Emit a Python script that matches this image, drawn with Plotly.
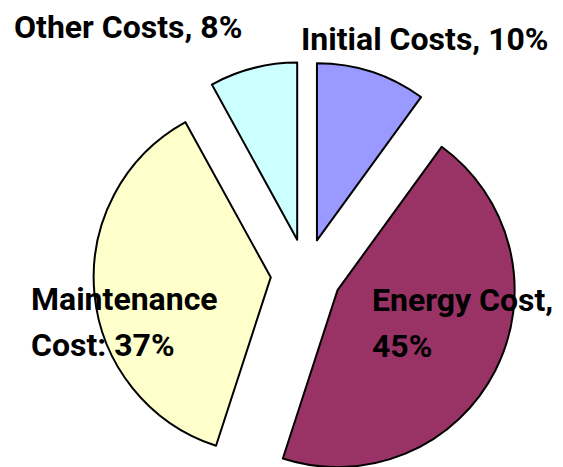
import plotly.graph_objects as go

# Life-cycle cost breakdown
labels = ["Initial Costs", "Energy Cost", "Maintenance Cost", "Other Costs"]
values = [10, 45, 37, 8]
colors = ["#9999FF", "#993366", "#FFFFCC", "#CCFFFF"]
label_text = [
    ["Initial Costs, 10%"],
    ["Energy Cost,", "45%"],
    ["Maintenance", "Cost: 37%"],
    ["Other Costs, 8%"],
]

W, H = 563, 487
CX, CY, SIDE = 306, 274, 425  # pie box centre and size in pixels

fig = go.Figure(
    go.Pie(
        labels=labels,
        values=values,
        sort=False,
        direction="clockwise",
        rotation=0,
        pull=[0.2] * len(values),
        marker=dict(colors=colors, line=dict(color="black", width=2)),
        textinfo="none",
        hoverinfo="skip",
        showlegend=False,
        domain=dict(
            x=[(CX - SIDE / 2) / W, (CX + SIDE / 2) / W],
            y=[max(0, (H - CY - SIDE / 2) / H), (H - CY + SIDE / 2) / H],
        ),
    )
)

# label anchors: left edge and top of first line, in pixels
label_pos = [(299, 18), (370, 279), (29, 278), (12, 6)]
LINE_GAP = 46
font = dict(family="Roboto, Arial, sans-serif", size=32, color="black", weight="bold")
for lines, (px, py) in zip(label_text, label_pos):
    for i, line in enumerate(lines):
        fig.add_annotation(
            text=line,
            x=px / W,
            y=1 - (py + i * LINE_GAP) / H,
            xref="paper",
            yref="paper",
            xanchor="left",
            yanchor="top",
            align="left",
            showarrow=False,
            font=font,
        )

fig.update_layout(
    width=W,
    height=H,
    margin=dict(l=0, r=0, t=0, b=0),
    paper_bgcolor="white",
    plot_bgcolor="white",
)

fig.write_html("out.html")
